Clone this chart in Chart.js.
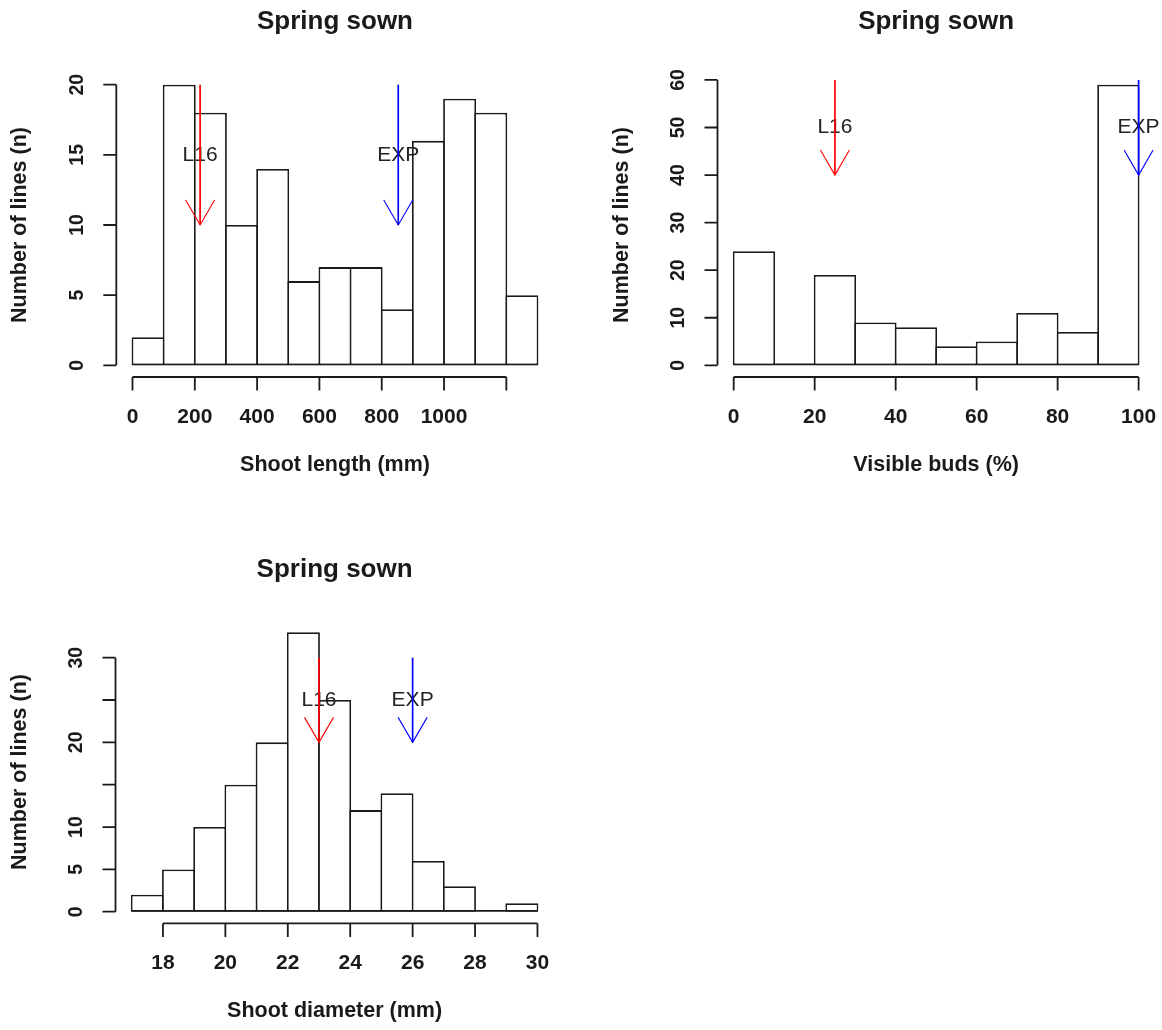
<!DOCTYPE html>
<html>
<head>
<meta charset="utf-8">
<script src="https://cdn.jsdelivr.net/npm/chart.js@4.4.0/dist/chart.umd.min.js"></script>
<style>
  html, body { margin: 0; padding: 0; background: #fff; }
  #wrap { position: relative; width: 1162px; height: 1030px; overflow: hidden; }
  #wrap canvas { position: absolute; }
</style>
</head>
<body>
<div id="wrap">
  <canvas id="lengthHist"></canvas>
  <canvas id="budsHist"></canvas>
  <canvas id="diamHist"></canvas>
</div>
<script>
// shoot length (mm)
const lengthBreaks = [0, 100, 200, 300, 400, 500, 600, 700, 800, 900, 1000, 1100, 1200, 1300];
const lengthCounts = [2, 20, 18, 10, 14, 6, 7, 7, 4, 16, 19, 18, 5];
const lengthXTicks = [0, 200, 400, 600, 800, 1000, 1200];
const lengthXLabels = ['0', '200', '400', '600', '800', '1000', ''];
const lengthYTicks = [0, 5, 10, 15, 20];
const lengthYLabels = ['0', '5', '10', '15', '20'];
const lengthMarks = [217, 853];      // L16, EXP
const lengthArrow = [20, 10, 15];    // from, to, label height

// visible buds (%)
const budsBreaks = [0, 10, 20, 30, 40, 50, 60, 70, 80, 90, 100];
const budsCounts = [24, 0, 19, 9, 8, 4, 5, 11, 7, 59];
const budsXTicks = [0, 20, 40, 60, 80, 100];
const budsXLabels = ['0', '20', '40', '60', '80', '100'];
const budsYTicks = [0, 10, 20, 30, 40, 50, 60];
const budsYLabels = ['0', '10', '20', '30', '40', '50', '60'];
const budsMarks = [25, 100];
const budsArrow = [60, 40, 50];

// shoot diameter (mm)
const diamBreaks = [17, 18, 19, 20, 21, 22, 23, 24, 25, 26, 27, 28, 29, 30];
const diamCounts = [2, 5, 10, 15, 20, 33, 25, 12, 14, 6, 3, 0, 1];
const diamXTicks = [18, 20, 22, 24, 26, 28, 30];
const diamXLabels = ['18', '20', '22', '24', '26', '28', '30'];
const diamYTicks = [0, 5, 10, 15, 20, 25, 30];
const diamYLabels = ['0', '5', '10', '', '20', '', '30'];
const diamMarks = [23, 26];
const diamArrow = [30, 20, 25];

const markNames = ['L16', 'EXP'];
const markColors = ['#ff0000', '#0000ff'];

const FONT = '"Liberation Sans", Arial, Helvetica, sans-serif';
const INK = '#1a1a1a';
const LW = 1.8;

// base-graphics look: detached axes, rotated y labels, arrows with open heads
const rAxes = (s) => ({
  id: 'rAxes',
  beforeDatasetsDraw(chart) {
    const {ctx, scales: {x, y}} = chart;
    const y0 = y.getPixelForValue(0) - LW / 2;
    ctx.save();
    ctx.strokeStyle = INK;
    ctx.lineWidth = LW;
    ctx.beginPath();
    ctx.moveTo(x.getPixelForValue(s.breaks[0]), y0);
    ctx.lineTo(x.getPixelForValue(s.breaks[s.breaks.length - 1]), y0);
    ctx.stroke();
    ctx.restore();
  },
  afterDraw(chart) {
    const {ctx, chartArea: a, scales: {x, y}} = chart;
    ctx.save();
    ctx.strokeStyle = INK;
    ctx.fillStyle = INK;
    ctx.lineWidth = LW;

    // y axis
    const ax = a.left;
    ctx.beginPath();
    ctx.moveTo(ax, y.getPixelForValue(s.yTicks[0]));
    ctx.lineTo(ax, y.getPixelForValue(s.yTicks[s.yTicks.length - 1]));
    s.yTicks.forEach(v => {
      const py = y.getPixelForValue(v);
      ctx.moveTo(ax - 13, py);
      ctx.lineTo(ax, py);
    });
    ctx.stroke();
    ctx.font = 'bold 19.5px ' + FONT;
    ctx.textAlign = 'center';
    ctx.textBaseline = 'middle';
    s.yTicks.forEach((v, i) => {
      if (!s.yLabels[i]) return;
      ctx.save();
      ctx.translate(ax - 39.5, y.getPixelForValue(v));
      ctx.rotate(-Math.PI / 2);
      ctx.fillText(s.yLabels[i], 0, 1);
      ctx.restore();
    });

    // x axis
    const ay = a.bottom + 0.5;
    ctx.beginPath();
    ctx.moveTo(x.getPixelForValue(s.xTicks[0]), ay);
    ctx.lineTo(x.getPixelForValue(s.xTicks[s.xTicks.length - 1]), ay);
    s.xTicks.forEach(v => {
      const px = x.getPixelForValue(v);
      ctx.moveTo(px, ay);
      ctx.lineTo(px, ay + 13.5);
    });
    ctx.stroke();
    ctx.font = 'bold 21px ' + FONT;
    s.xTicks.forEach((v, i) => {
      if (s.xLabels[i]) ctx.fillText(s.xLabels[i], x.getPixelForValue(v), ay + 40);
    });

    // titles
    const cx = (a.left + a.right) / 2;
    ctx.font = 'bold 21.5px ' + FONT;
    ctx.fillText(s.xTitle, cx, a.bottom + 88.5);
    ctx.save();
    ctx.translate(a.left - 95.8, (a.top + a.bottom) / 2);
    ctx.rotate(-Math.PI / 2);
    ctx.fillText('Number of lines (n)', 0, 0);
    ctx.restore();
    ctx.font = 'bold 26px ' + FONT;
    ctx.textBaseline = 'alphabetic';
    ctx.fillText('Spring sown', cx, a.top - 44.5);

    // reference lines: label first, arrow on top
    const [from, to, at] = s.arrow;
    ctx.font = '21px ' + FONT;
    ctx.textBaseline = 'middle';
    s.marks.forEach((v, i) => {
      ctx.fillStyle = '#222';
      ctx.fillText(markNames[i], x.getPixelForValue(v), y.getPixelForValue(at));
    });
    s.marks.forEach((v, i) => {
      const px = x.getPixelForValue(v);
      const tip = y.getPixelForValue(to);
      ctx.strokeStyle = markColors[i];
      ctx.lineWidth = 1.7;
      ctx.beginPath();
      ctx.moveTo(px, y.getPixelForValue(from));
      ctx.lineTo(px, tip);
      ctx.stroke();
      ctx.lineWidth = 1.1;
      ctx.beginPath();
      ctx.moveTo(px - 14.5, tip - 25);
      ctx.lineTo(px, tip);
      ctx.lineTo(px + 14.5, tip - 25);
      ctx.stroke();
    });
    ctx.restore();
  }
});

function histogram(s) {
  const canvas = document.getElementById(s.id);
  canvas.width = s.box.w;
  canvas.height = s.box.h;
  canvas.style.left = s.box.x + 'px';
  canvas.style.top = s.box.y + 'px';

  const lo = s.breaks[0], hi = s.breaks[s.breaks.length - 1];
  const span = hi - lo;
  const top = Math.max(...s.counts);
  const binPx = (s.plot.r - s.plot.l) * (s.breaks[1] - s.breaks[0]) / (span * 1.08);
  const points = s.counts.map((c, i) => ({x: (s.breaks[i] + s.breaks[i + 1]) / 2, y: c}));

  var ctx = canvas.getContext('2d');
  return new Chart(ctx, {
    type: 'bar',
    data: {
      datasets: [{
        data: points,
        backgroundColor: '#ffffff',
        borderColor: INK,
        borderWidth: LW,
        borderSkipped: false,
        inflateAmount: 0,
        // widen by one border so neighbouring edges overlap into a single line
        barPercentage: 1 + LW / binPx,
        categoryPercentage: 1
      }]
    },
    options: {
      responsive: false,
      animation: false,
      devicePixelRatio: 1,
      layout: {
        padding: {
          left: s.plot.l - s.box.x,
          top: s.plot.t - s.box.y,
          right: s.box.x + s.box.w - s.plot.r,
          bottom: s.box.y + s.box.h - s.plot.b
        }
      },
      plugins: {legend: {display: false}, tooltip: {enabled: false}},
      scales: {
        x: {
          type: 'linear',
          offset: false,
          min: lo - 0.04 * span,
          max: hi + 0.04 * span,
          display: false,
          afterBuildTicks: sc => { sc.ticks = s.breaks.map(v => ({value: v})); }
        },
        y: {
          type: 'linear',
          min: -0.04 * top,
          max: 1.04 * top,
          display: false
        }
      }
    },
    plugins: [rAxes(s)]
  });
}

histogram({
  id: 'lengthHist',
  box: {x: 0, y: 0, w: 581, h: 515},
  plot: {l: 116.3, t: 73.5, r: 553.7, b: 376.5},
  breaks: lengthBreaks, counts: lengthCounts,
  xTicks: lengthXTicks, xLabels: lengthXLabels,
  yTicks: lengthYTicks, yLabels: lengthYLabels,
  xTitle: 'Shoot length (mm)',
  marks: lengthMarks, arrow: lengthArrow
});

histogram({
  id: 'budsHist',
  box: {x: 581, y: 0, w: 581, h: 515},
  plot: {l: 717.5, t: 73.5, r: 1154.8, b: 376.5},
  breaks: budsBreaks, counts: budsCounts,
  xTicks: budsXTicks, xLabels: budsXLabels,
  yTicks: budsYTicks, yLabels: budsYLabels,
  xTitle: 'Visible buds (%)',
  marks: budsMarks, arrow: budsArrow
});

histogram({
  id: 'diamHist',
  box: {x: 0, y: 515, w: 581, h: 515},
  plot: {l: 115.5, t: 621.1, r: 553.7, b: 922.9},
  breaks: diamBreaks, counts: diamCounts,
  xTicks: diamXTicks, xLabels: diamXLabels,
  yTicks: diamYTicks, yLabels: diamYLabels,
  xTitle: 'Shoot diameter (mm)',
  marks: diamMarks, arrow: diamArrow
});
</script>
</body>
</html>
